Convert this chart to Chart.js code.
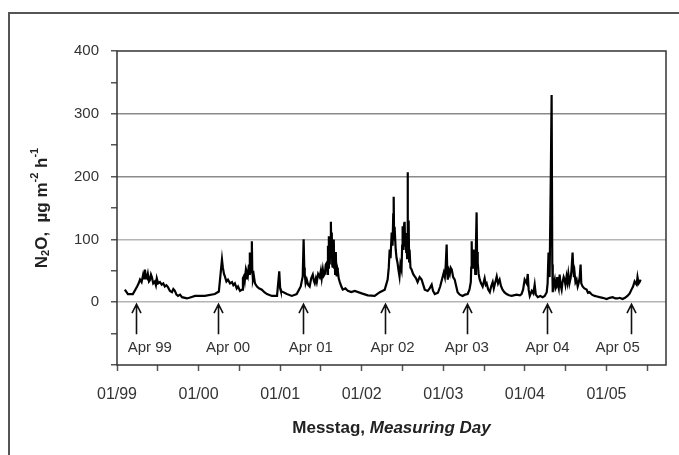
<!DOCTYPE html>
<html>
<head>
<meta charset="utf-8">
<script src="https://cdn.jsdelivr.net/npm/chart.js@4.4.0/dist/chart.umd.min.js"></script>
<style>
  html, body { margin: 0; padding: 0; background: #fff; }
</style>
</head>
<body>
<canvas id="n2o-chart" width="679" height="455"></canvas>
<script>
// measuring days (MM-DD per year) and N2O flux in µg m-2 h-1
const days1999 = ['02-05','02-19','03-13','04-01','04-08','04-14','04-21','04-28','05-02','05-06',
  '05-10','05-15','05-19','05-24','05-28','06-02','06-06','06-12','06-19','06-24',
  '06-28','07-04','07-12','07-20','07-27','08-03','08-10','08-17','08-26','09-04',
  '09-10','09-17','09-24','10-01','10-10','10-19','11-10','11-28','12-16'];
const flux1999 = [20,13,13,25,30,36,32,44,38,52, 40,38,45,33,35,44,40,30,33,27,
  38,30,32,28,30,25,27,24,18,16, 21,18,12,10,12,8,6,8,10];

const days2000 = ['01-29','03-14','04-01','04-10','04-15','04-19','04-24','04-28','05-05','05-12',
  '05-21','05-30','06-05','06-12','06-20','06-26','07-05','07-14','07-18','07-22',
  '07-26','07-30','08-02','08-05','08-09','08-14','08-16','08-18','08-20','08-23',
  '08-25','08-27','08-29','09-01','09-05','09-10','09-19','09-28','10-11','10-22',
  '11-03','11-25','12-18','12-28'];
const flux2000 = [10,13,17,50,68,55,45,41,33,36, 30,32,27,30,22,25,18,20,38,41,
  33,47,38,47,42,60,45,79,55,60, 48,97,50,36,42,30,25,22,20,16, 13,10,10,49];

const days2001 = ['01-01','01-04','01-31','02-22','03-16','04-03','04-12','04-16','04-19','04-21',
  '04-25','04-30','05-06','05-13','05-20','05-27','06-01','06-05','06-10','06-14',
  '06-20','06-27','07-02','07-06','07-11','07-15','07-20','07-24','07-29','08-01',
  '08-03','08-05','08-07','08-09','08-11','08-13','08-16','08-18','08-20','08-22',
  '08-24','08-27','08-29','08-31','09-02','09-04','09-07','09-09','09-11','09-13',
  '09-16','09-20','09-25','10-02','10-08','10-20','10-31','11-15','12-01'];
const flux2001 = [22,18,13,10,13,25,41,100,55,45, 30,36,28,25,38,44,34,30,38,32,
  45,40,50,38,52,42,45,60,63,45, 90,55,105,70,60,95,128,75,111,60,
  55,85,100,55,68,45,80,50,41,55, 50,38,32,25,20,22,18,16,18];

const days2002 = ['01-01','01-28','02-28','03-23','04-14','04-27','05-02','05-06','05-10','05-15',
  '05-19','05-22','05-24','05-26','05-28','06-02','06-06','06-10','06-15','06-19',
  '06-23','06-28','07-01','07-03','07-05','07-07','07-10','07-12','07-14','07-16',
  '07-19','07-21','07-23','07-25','07-27','07-30','08-01','08-03','08-07','08-12',
  '08-19','08-26','09-01','09-08','09-17','09-26','10-03','10-10','10-23','11-01',
  '11-10','11-16','11-24','12-08','12-18','12-26'];
const flux2002 = [14,11,10,16,20,36,55,84,70,111, 90,140,168,100,120,84,70,63,50,41,
  60,52,90,121,85,100,125,128,90,110, 80,95,70,207,90,130,65,84,55,52,
  45,41,38,32,40,36,28,20,18,22, 28,18,13,15,25,36];

const days2003 = ['01-03','01-08','01-12','01-16','01-19','01-21','01-26','01-30','02-03','02-08',
  '02-14','02-21','02-28','03-06','03-16','03-28','04-08','04-20','04-28','05-04',
  '05-06','05-08','05-10','05-12','05-15','05-17','05-19','05-21','05-24','05-27',
  '05-30','06-01','06-04','06-08','06-13','06-19','06-26','07-01','07-05','07-10',
  '07-14','07-21','07-28','08-03','08-10','08-15','08-19','08-24','08-28','09-03',
  '09-10','09-16','09-23','10-01','10-11','10-22','11-03','11-25','12-10','12-17',
  '12-24','12-31'];
const flux2003 = [47,40,60,92,45,36,50,45,55,52, 40,36,25,16,12,10,12,13,20,32,
  55,97,55,60,75,84,55,70,45,90, 143,80,63,45,36,30,25,32,38,28,
  30,20,16,25,32,22,28,35,41,30, 36,26,20,16,13,11,10,12,11,13, 20,36];

const days2004 = ['01-09','01-14','01-18','01-23','02-01','02-08','02-14','02-19','02-28','03-10',
  '03-21','03-30','04-08','04-12','04-16','04-21','04-26','04-30','05-03','05-05',
  '05-09','05-14','05-18','05-22','05-25','05-27','06-01','06-05','06-09','06-14',
  '06-18','06-23','06-27','07-01','07-06','07-10','07-14','07-19','07-24','07-28',
  '08-02','08-05','08-08','08-11','08-15','08-20','08-25','08-29','09-03','09-07',
  '09-10','09-16','09-24','10-04','10-10','10-17','10-28','11-09','11-20','12-01',
  '12-15'];
const flux2004 = [30,45,20,10,18,14,28,12,8,10, 8,10,16,30,79,40,190,330,60,16,
  28,36,22,25,40,30,22,44,28,20, 32,40,36,28,41,32,45,30,38,50,
  79,55,40,47,32,36,25,30,40,60, 30,25,22,20,15,16,12,10,9,8, 7];

const days2005 = ['01-02','01-15','01-29','02-10','02-20','03-01','03-14','03-25','04-05','04-15',
  '04-23','04-30','05-07','05-12','05-16','05-20','05-25','05-29','06-03'];
const flux2005 = [5,7,8,6,6,7,5,7,10,14, 20,25,33,30,28,40,30,32,36];

const yearTicks = ['01/99','01/00','01/01','01/02','01/03','01/04','01/05'];
const yTickLabels = [0, 100, 200, 300, 400];
const gridValues = [0, 100, 200, 300];

const arrowDates = ['1999-03-27','2000-03-28','2001-04-12','2002-04-14','2003-04-16','2004-04-08','2005-04-23'];
const arrowLabelDates = ['1999-05-28','2000-05-12','2001-05-18','2002-05-19','2003-04-16','2004-04-12','2005-02-20'];
const arrowLabels = ['Apr 99','Apr 00','Apr 01','Apr 02','Apr 03','Apr 04','Apr 05'];

const seasons = [
  [1999, days1999, flux1999], [2000, days2000, flux2000], [2001, days2001, flux2001],
  [2002, days2002, flux2002], [2003, days2003, flux2003], [2004, days2004, flux2004],
  [2005, days2005, flux2005]
];

// date string -> decimal year (Jan 1 = whole year)
function toYear(s) {
  const p = s.split('-').map(Number);
  const t = Date.UTC(p[0], p[1] - 1, p[2]);
  const a = Date.UTC(p[0], 0, 1), b = Date.UTC(p[0] + 1, 0, 1);
  return p[0] + (t - a) / (b - a);
}

const points = [];
seasons.forEach(([yr, days, flux]) => {
  if (days.length !== flux.length) console.warn('length mismatch', yr);
  days.forEach((d, i) => points.push({ x: toYear(yr + '-' + d), y: flux[i] }));
});

// draws a run of text pieces with own size / offset, centred on (cx, cy)
function drawRich(ctx, parts, cx, cy, family) {
  let w = 0;
  parts.forEach(p => {
    ctx.font = p.style + ' ' + p.size + 'px ' + family;
    p.w = ctx.measureText(p.t).width;
    w += p.w;
  });
  let x = cx - w / 2;
  ctx.textAlign = 'left';
  ctx.textBaseline = 'middle';
  parts.forEach(p => {
    ctx.font = p.style + ' ' + p.size + 'px ' + family;
    ctx.fillText(p.t, x, cy + (p.dy || 0));
    x += p.w;
  });
}

const FONT = '"Liberation Sans", Arial, sans-serif';

const decorations = {
  id: 'decorations',
  afterDatasetsDraw(chart) {
    const { ctx, chartArea: a } = chart;
    ctx.save();
    ctx.strokeStyle = '#333';
    ctx.lineWidth = 1.5;
    ctx.strokeRect(a.left, a.top, a.right - a.left, a.bottom - a.top);
    ctx.restore();
  },
  afterDraw(chart) {
    const { ctx, chartArea: a } = chart;
    const xs = chart.scales.x, ys = chart.scales.y;
    const y0 = ys.getPixelForValue(0);

    ctx.save();
    // arrows for April of each year
    ctx.strokeStyle = '#111';
    ctx.lineWidth = 1.6;
    arrowDates.forEach(d => {
      const x = Math.round(xs.getPixelForValue(toYear(d))) + 0.5;
      const tip = y0 + 2;
      ctx.beginPath();
      ctx.moveTo(x, y0 + 32);
      ctx.lineTo(x, tip);
      ctx.moveTo(x - 4.5, tip + 9);
      ctx.lineTo(x, tip);
      ctx.lineTo(x + 4.5, tip + 9);
      ctx.stroke();
    });
    ctx.fillStyle = '#333';
    ctx.font = '15px ' + FONT;
    ctx.textAlign = 'center';
    ctx.textBaseline = 'middle';
    arrowLabels.forEach((t, i) => {
      ctx.fillText(t, xs.getPixelForValue(toYear(arrowLabelDates[i])), y0 + 46);
    });

    // axis titles
    ctx.fillStyle = '#222';
    drawRich(ctx, [
      { t: 'Messtag, ', size: 17, style: 'bold' },
      { t: 'Measuring Day', size: 17, style: 'italic bold' }
    ], (a.left + a.right) / 2, 428, FONT);

    ctx.translate(42, 208);
    ctx.rotate(-Math.PI / 2);
    drawRich(ctx, [
      { t: 'N', size: 17, style: 'bold' },
      { t: '2', size: 11, style: 'bold', dy: 4 },
      { t: 'O,  µg m', size: 17, style: 'bold' },
      { t: '-2', size: 11, style: 'bold', dy: -7 },
      { t: ' h', size: 17, style: 'bold' },
      { t: '-1', size: 11, style: 'bold', dy: -7 }
    ], 0, 0, FONT);
    ctx.restore();

    // outer frame of the figure
    ctx.save();
    ctx.strokeStyle = '#555';
    ctx.lineWidth = 2;
    ctx.beginPath();
    ctx.moveTo(9, 455);
    ctx.lineTo(9, 13);
    ctx.lineTo(679, 13);
    ctx.stroke();
    ctx.restore();
  }
};

new Chart(document.getElementById('n2o-chart').getContext('2d'), {
  type: 'line',
  data: {
    datasets: [{
      data: points,
      borderColor: '#000',
      borderWidth: 2.2,
      pointRadius: 0,
      tension: 0,
      fill: false
    }]
  },
  options: {
    responsive: false,
    animation: false,
    layout: { padding: { left: 0, top: 51, right: 13, bottom: 0 } },
    plugins: {
      legend: { display: false },
      tooltip: { enabled: false }
    },
    scales: {
      x: {
        type: 'linear',
        min: 1999,
        max: 2005.73,
        afterBuildTicks: s => {
          const t = [];
          for (let v = 1999; v <= 2005.5; v += 0.5) t.push({ value: v });
          s.ticks = t;
        },
        afterFit: s => { s.height = 90; },
        ticks: {
          autoSkip: false,
          maxRotation: 0,
          padding: 14,
          color: '#333',
          font: { family: FONT, size: 16 },
          callback: v => Number.isInteger(v) ? yearTicks[v - 1999] : ''
        },
        grid: {
          drawOnChartArea: false,
          tickLength: 6,
          tickColor: '#555',
          tickWidth: 1.5
        },
        border: { display: false }
      },
      y: {
        min: -100,
        max: 400,
        afterBuildTicks: s => {
          const t = [];
          for (let v = -100; v <= 400; v += 50) t.push({ value: v });
          s.ticks = t;
        },
        afterFit: s => { s.width = 117; },
        ticks: {
          autoSkip: false,
          padding: 12,
          color: '#333',
          font: { family: FONT, size: 15 },
          callback: v => yTickLabels.includes(v) ? String(v) : ''
        },
        grid: {
          color: c => gridValues.includes(c.tick && c.tick.value)
            ? (c.tick.value >= 200 ? '#8a8a8a' : '#b4b4b4') : 'rgba(0,0,0,0)',
          lineWidth: 1.5,
          tickLength: 6,
          tickColor: '#555',
          tickWidth: 1.5
        },
        border: { display: false }
      }
    }
  },
  plugins: [decorations]
});
</script>
</body>
</html>
